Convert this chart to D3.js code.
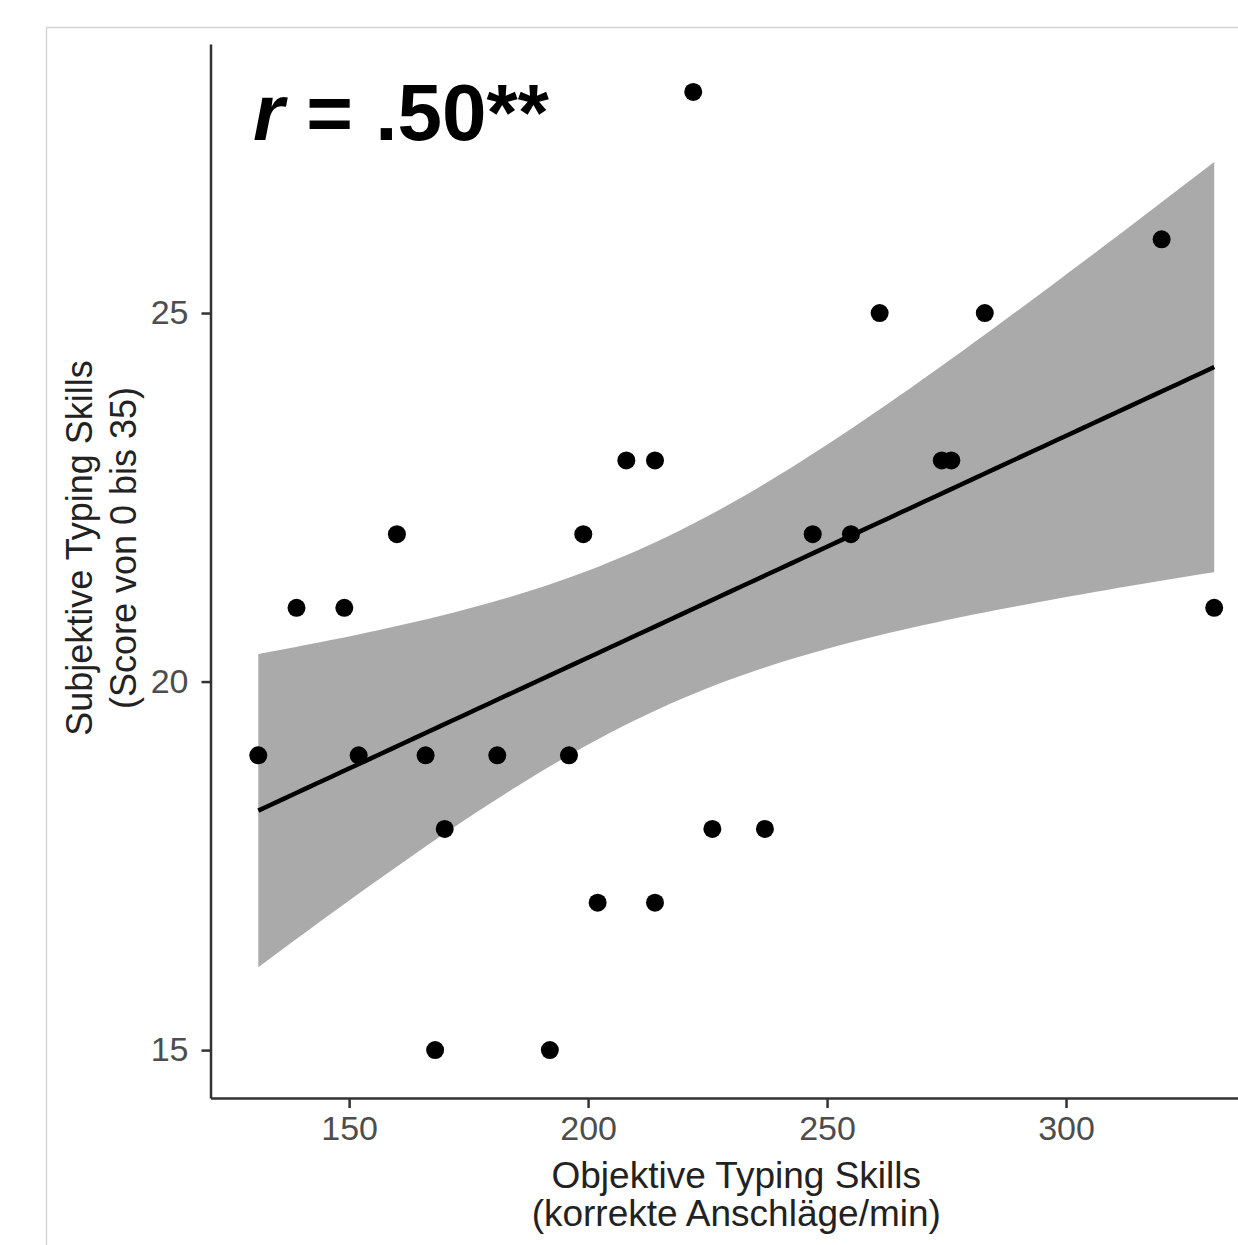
<!DOCTYPE html>
<html>
<head>
<meta charset="utf-8">
<script src="https://cdn.jsdelivr.net/npm/d3@7"></script>
<style>
  body { margin: 0; background: #fff; }
  svg { display: block; font-family: "Liberation Sans", Arial, sans-serif; }
</style>
</head>
<body>
<div id="chart"></div>
<script>
// typing speed (correct keystrokes / min) and self-rated score
const objektiv = [131, 139, 149, 152, 160, 166, 168, 170, 181, 192, 196, 199, 202, 208,
                  214, 214, 222, 226, 237, 247, 255, 261, 274, 276, 283, 320, 331];
const subjektiv = [19, 21, 21, 19, 22, 19, 15, 18, 19, 15, 19, 22, 17, 23,
                   23, 17, 28, 18, 18, 22, 22, 25, 23, 23, 25, 26, 21];
const xTicks = [150, 200, 250, 300];
const yTicks = [15, 20, 25];
const xTitle = ["Objektive Typing Skills", "(korrekte Anschläge/min)"];
const yTitle = ["Subjektive Typing Skills", "(Score von 0 bis 35)"];
const tCrit = 2.0595; // qt(0.975, df = 25)

const width = 1238, height = 1245;

const svg = d3.select('#chart').append('svg')
    .attr('width', width)
    .attr('height', height);

// frame of the screenshot
svg.append('rect')
    .attr('x', 46.5).attr('y', 27.5)
    .attr('width', 1300).attr('height', 1300)
    .attr('fill', 'none')
    .attr('stroke', '#d6d6d6')
    .attr('stroke-width', 1.5);

// ggplot-like 5% expansion
const xExt = d3.extent(objektiv), yExt = d3.extent(subjektiv);
const xPad = (xExt[1] - xExt[0]) * 0.05, yPad = (yExt[1] - yExt[0]) * 0.05;

const x = d3.scaleLinear()
    .domain([xExt[0] - xPad, xExt[1] + xPad])
    .range([210.5, 1262]);
const y = d3.scaleLinear()
    .domain([yExt[0] - yPad, yExt[1] + yPad])
    .range([1098, 44]);

// linear model + 95% confidence band
const n = objektiv.length;
const mx = d3.mean(objektiv), my = d3.mean(subjektiv);
let sxx = 0, sxy = 0;
objektiv.forEach((d, i) => {
    sxx += (d - mx) * (d - mx);
    sxy += (d - mx) * (subjektiv[i] - my);
});
const slope = sxy / sxx, icpt = my - slope * mx;
let sse = 0;
objektiv.forEach((d, i) => {
    const r = subjektiv[i] - (icpt + slope * d);
    sse += r * r;
});
const s = Math.sqrt(sse / (n - 2));

const grid = d3.range(80).map(i => xExt[0] + (xExt[1] - xExt[0]) * i / 79);
const fit = grid.map(g => {
    const yh = icpt + slope * g;
    const se = s * Math.sqrt(1 / n + (g - mx) * (g - mx) / sxx);
    return { x: g, y: yh, lo: yh - tCrit * se, hi: yh + tCrit * se };
});

svg.append('path')
    .datum(fit)
    .attr('fill', '#aaaaaa')
    .attr('d', d3.area().x(d => x(d.x)).y0(d => y(d.lo)).y1(d => y(d.hi)));

svg.append('path')
    .datum(fit)
    .attr('fill', 'none')
    .attr('stroke', '#000')
    .attr('stroke-width', 4.5)
    .attr('d', d3.line().x(d => x(d.x)).y(d => y(d.y)));

svg.append('g')
    .selectAll('circle')
    .data(objektiv)
    .enter()
    .append('circle')
    .attr('cx', d => x(d))
    .attr('cy', (d, i) => y(subjektiv[i]))
    .attr('r', 9)
    .attr('fill', '#000');

// axes
const styleAxis = g => {
    g.select('.domain').attr('stroke', '#333').attr('stroke-width', 2.5);
    g.selectAll('.tick line').attr('stroke', '#333').attr('stroke-width', 2.5);
    g.selectAll('.tick text')
        .attr('fill', '#4d4d4d')
        .style('font-size', '34px')
        .style('font-family', '"Liberation Sans", Arial, sans-serif');
};

svg.append('g')
    .attr('transform', 'translate(0,' + y.range()[0] + ')')
    .call(d3.axisBottom(x).tickValues(xTicks).tickSize(10).tickSizeOuter(0).tickPadding(8))
    .call(styleAxis);

svg.append('g')
    .attr('transform', 'translate(' + x.range()[0] + ',0)')
    .call(d3.axisLeft(y).tickValues(yTicks).tickSize(9).tickSizeOuter(0).tickPadding(13))
    .call(styleAxis);

// titles
const xMid = (x.range()[0] + x.range()[1]) / 2;
svg.append('g').selectAll('text')
    .data(xTitle)
    .enter()
    .append('text')
    .attr('x', xMid)
    .attr('y', (d, i) => 1188 + i * 38)
    .attr('text-anchor', 'middle')
    .attr('fill', '#222')
    .style('font-size', '37px')
    .text(d => d);

svg.append('g').selectAll('text')
    .data(yTitle)
    .enter()
    .append('text')
    .attr('transform', (d, i) => 'translate(' + (92 + i * 44) + ',548) rotate(-90)')
    .attr('text-anchor', 'middle')
    .attr('fill', '#222')
    .style('font-size', '36px')
    .text(d => d);

// correlation label
const lab = svg.append('text')
    .attr('x', 253)
    .attr('y', 140)
    .attr('fill', '#000')
    .style('font-size', '80px')
    .style('font-weight', 'bold');
lab.append('tspan').style('font-style', 'italic').text('r');
lab.append('tspan').text(' = .50**');
</script>
</body>
</html>
